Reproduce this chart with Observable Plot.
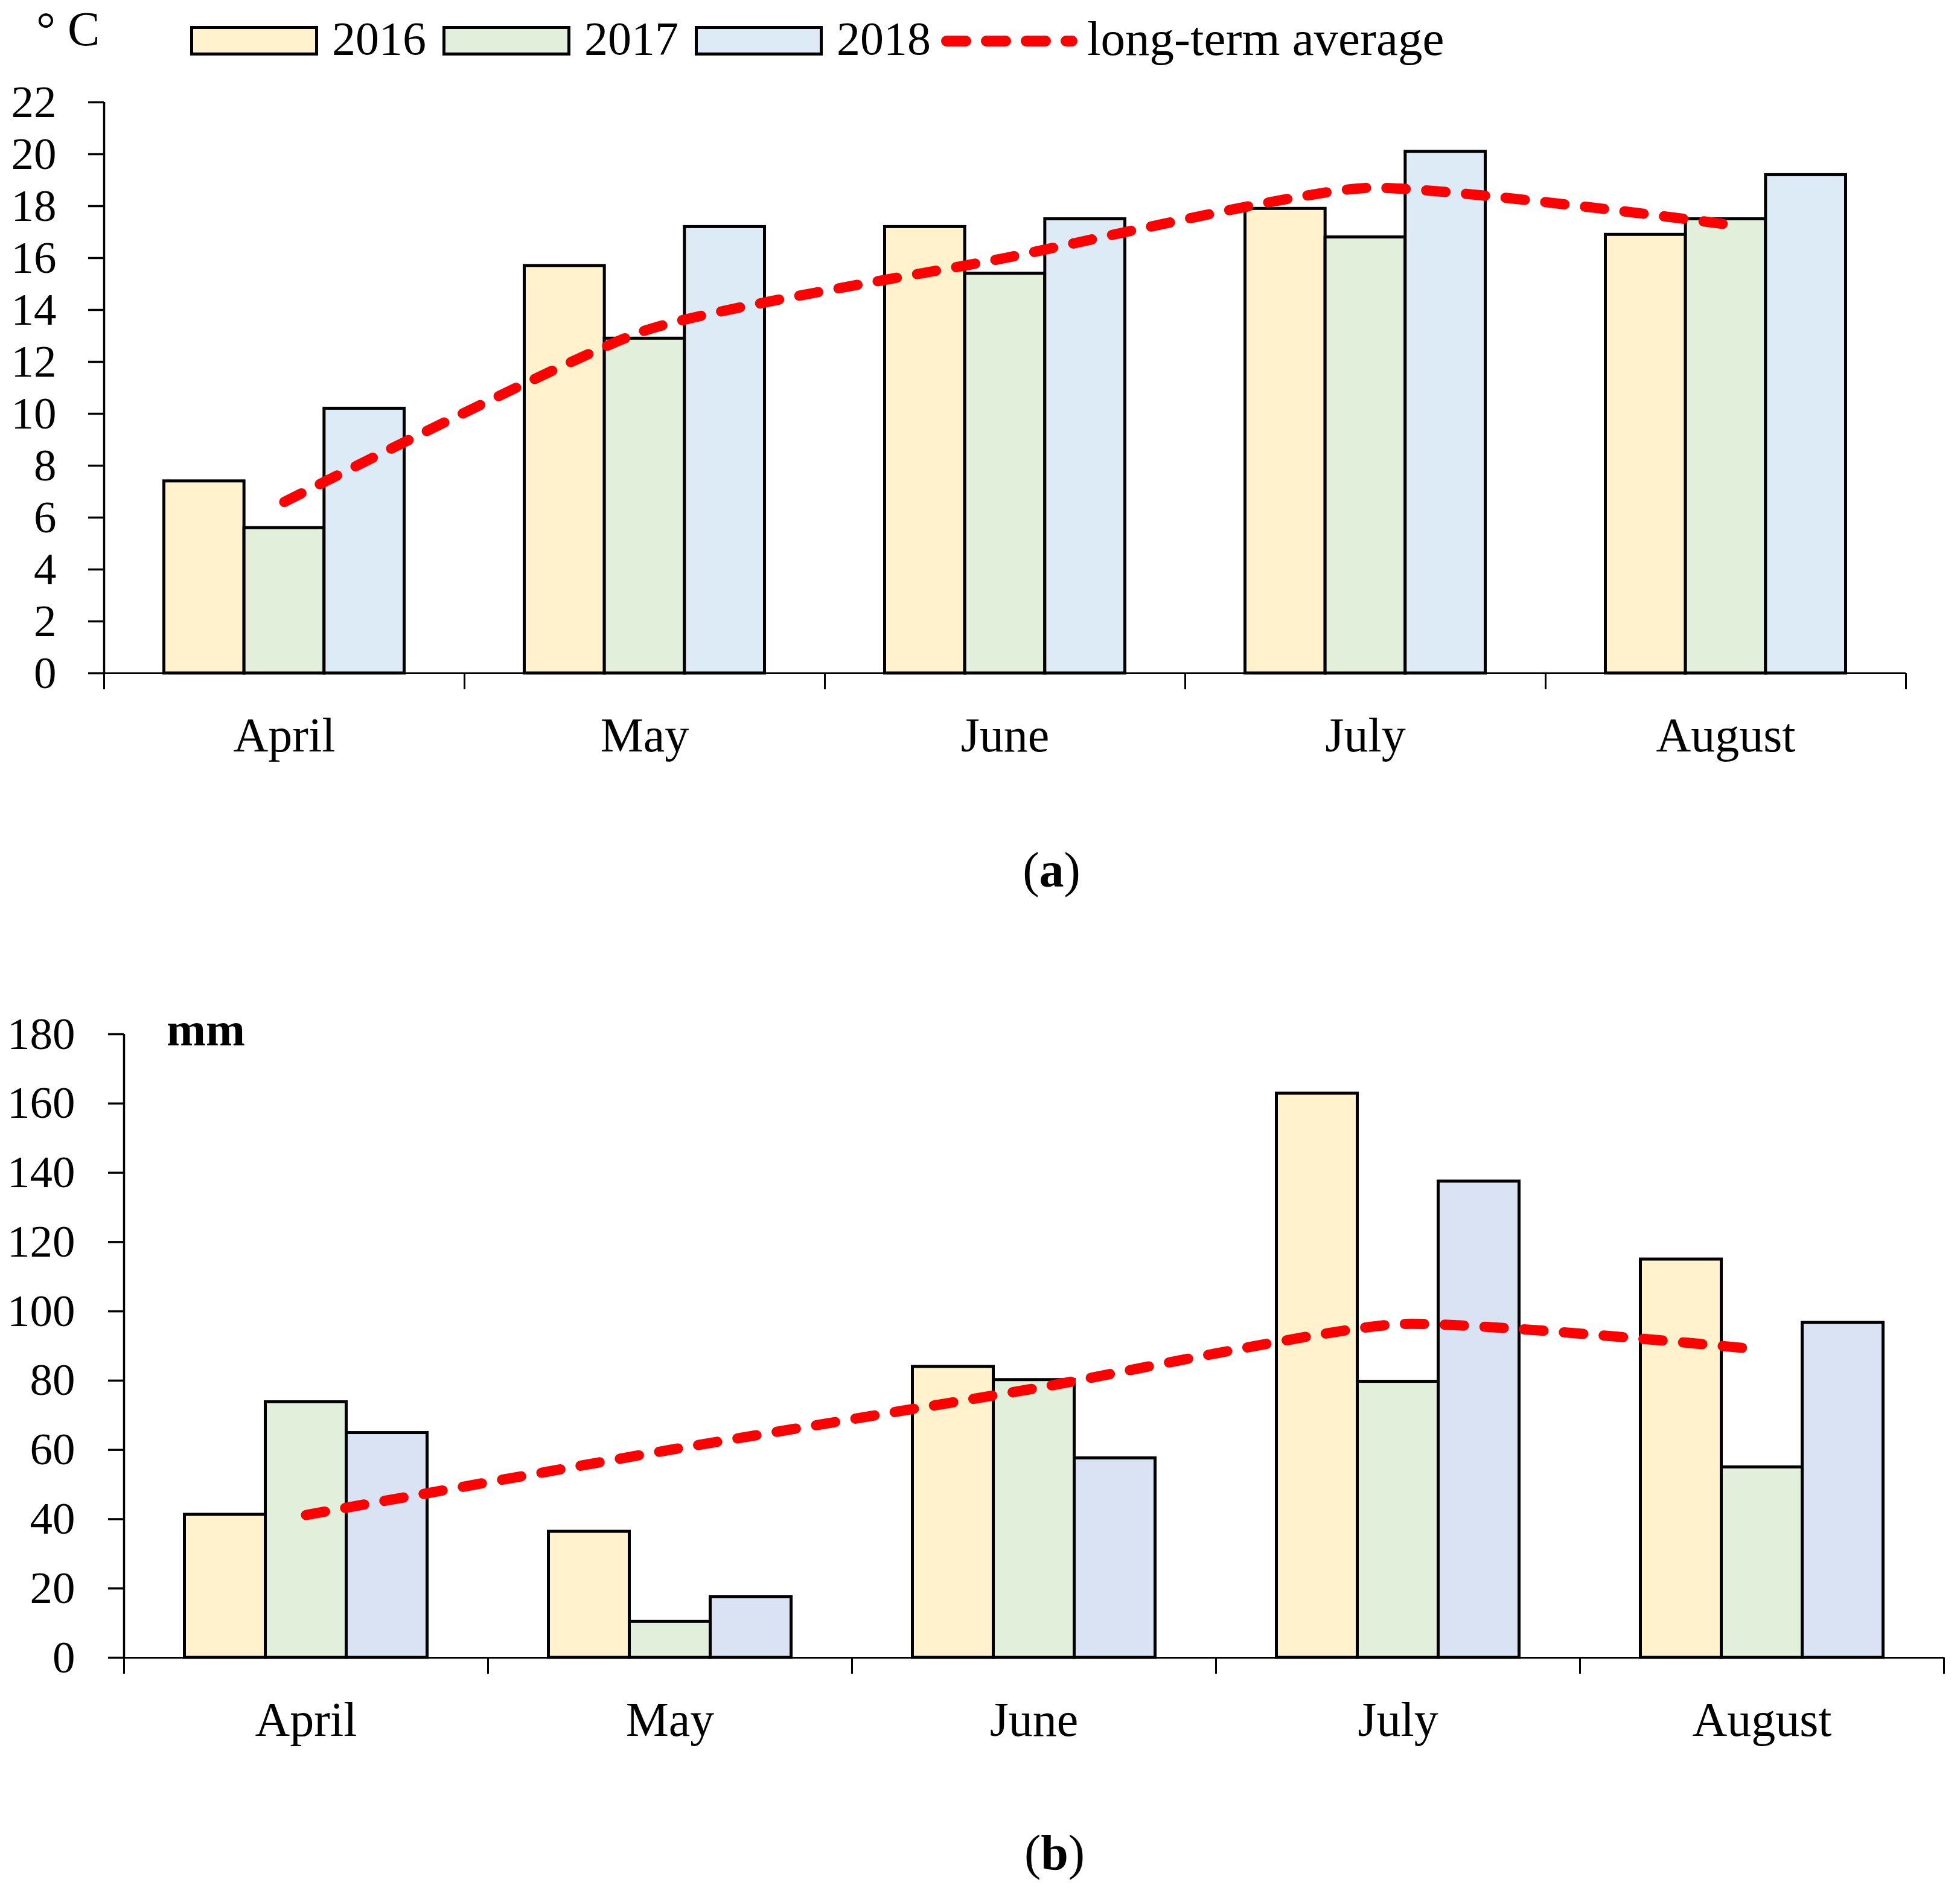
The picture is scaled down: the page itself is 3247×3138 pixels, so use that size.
<!DOCTYPE html>
<html>
<head>
<meta charset="utf-8">
<script src="https://cdn.jsdelivr.net/npm/d3@7"></script>
<script src="https://cdn.jsdelivr.net/npm/@observablehq/plot@0.6"></script>
<style>
  html, body { margin: 0; padding: 0; background: #fff; }
  #page { position: relative; width: 3247px; height: 3138px; background: #fff; font-family: "Liberation Serif", serif; color: #000; overflow: hidden; }
  .abs { position: absolute; white-space: nowrap; line-height: 1; }
  .sw { position: absolute; box-sizing: border-box; border: 5px solid #000; width: 212px; height: 49px; }
  .dash { position: absolute; height: 18px; border-radius: 9px; background: #ff0000; }
</style>
</head>
<body>
<div id="page">
  <div class="abs" style="left:60px; top:8px; font-size:80px;">° C</div>

  <div class="sw" style="left:315px; top:43px; background:#FFF2CC;"></div>
  <div class="abs" style="left:550px; top:25px; font-size:78px;">2016</div>
  <div class="sw" style="left:733px; top:43px; background:#E2EFDA;"></div>
  <div class="abs" style="left:968px; top:25px; font-size:78px;">2017</div>
  <div class="sw" style="left:1151px; top:43px; background:#DDEBF7;"></div>
  <div class="abs" style="left:1386px; top:25px; font-size:78px;">2018</div>
  <div class="dash" style="left:1559px; top:59px; width:50px;"></div>
  <div class="dash" style="left:1625px; top:59px; width:50px;"></div>
  <div class="dash" style="left:1691px; top:59px; width:50px;"></div>
  <div class="dash" style="left:1757px; top:59px; width:28px;"></div>
  <div class="abs" style="left:1801px; top:24px; font-size:81px;">long-term average</div>

  <div id="chartA" style="position:absolute; left:0; top:130px;"></div>
  <div class="abs" style="left:1542px; width:400px; text-align:center; top:1401px; font-size:82px;">(<b>a</b>)</div>

  <div id="chartB" style="position:absolute; left:0; top:1650px;"></div>
  <div class="abs" style="left:276px; top:1667px; font-size:78px; font-weight:bold;">mm</div>
  <div class="abs" style="left:1547px; width:400px; text-align:center; top:3029px; font-size:82px;">(<b>b</b>)</div>
</div>
<script>
// ---- data ----
const months = ["April", "May", "June", "July", "August"];
const years = ["2016", "2017", "2018"];

// (a) air temperature, °C
const temp2016 = [7.4, 15.7, 17.2, 17.9, 16.9];
const temp2017 = [5.6, 12.9, 15.4, 16.8, 17.5];
const temp2018 = [10.2, 17.2, 17.5, 20.1, 19.2];
const tempLongTerm = [6.6, 13.2, 16.0, 18.7, 17.3];
const tempTicks = [0, 2, 4, 6, 8, 10, 12, 14, 16, 18, 20, 22];

// (b) precipitation, mm
const prec2016 = [41.3, 36.4, 84.0, 162.9, 115.0];
const prec2017 = [73.8, 10.4, 80.2, 79.7, 55.0];
const prec2018 = [64.9, 17.5, 57.6, 137.5, 96.7];
const precLongTerm = [41.2, 60.0, 77.7, 96.3, 88.9];
const precTicks = [0, 20, 40, 60, 80, 100, 120, 140, 160, 180];

// ---- styles ----
const FONT = "Liberation Serif";
const colorsA = ["#FFF2CC", "#E2EFDA", "#DDEBF7"];
const colorsB = ["#FFF2CC", "#E2EFDA", "#DAE3F3"];

function panel({series, avg, colors, ticks, width, height, ml, mr, mt, mb, tickPadY}) {
  const bw = (width - ml - mr) / months.length;
  const groupPad = 1 / 6, barFrac = 2 / 9;
  const marks = [];
  marks.push(Plot.ruleY([0], {stroke: "black", strokeWidth: 3}));
  years.forEach((yr, k) => {
    const rows = months.map((m, i) => ({month: m, year: yr, value: series[k][i]}));
    const left = bw * (groupPad + k * barFrac);
    const right = bw - left - bw * barFrac;
    marks.push(Plot.barY(rows, {
      x: "month", y: "value", fill: colors[k], stroke: "black", strokeWidth: 5,
      insetLeft: left, insetRight: right
    }));
  });
  // y axis line
  marks.push(Plot.ruleX([months[0]], {x: d => d, y1: ticks[0], y2: ticks[ticks.length - 1], dx: -bw / 2, stroke: "black", strokeWidth: 3.5}));
  // category boundary ticks
  marks.push(Plot.ruleX(months, {x: d => d, y1: 0, y2: 0, insetBottom: -27, dx: -bw / 2, stroke: "black", strokeWidth: 3}));
  marks.push(Plot.ruleX([months[months.length - 1]], {x: d => d, y1: 0, y2: 0, insetBottom: -27, dx: bw / 2, stroke: "black", strokeWidth: 3}));
  // long-term average
  marks.push(Plot.line(months.map((m, i) => ({month: m, value: avg[i]})), {
    x: "month", y: "value", curve: "cardinal", tension: 0.45, stroke: "#FF0000", strokeWidth: 17,
    strokeDasharray: "32,34", strokeLinecap: "round", strokeLinejoin: "round"
  }));
  marks.push(Plot.axisY({ticks, tickSize: 26, tickPadding: tickPadY, fontSize: 75, strokeWidth: 3.5, tickFormat: d => String(d)}));
  marks.push(Plot.axisX({tickSize: 0, tickPadding: 73, fontSize: 80}));
  return Plot.plot({
    width, height,
    marginLeft: ml, marginRight: mr, marginTop: mt, marginBottom: mb,
    style: {fontFamily: FONT, background: "transparent", color: "black", overflow: "visible"},
    x: {type: "band", domain: months, padding: 0, label: null},
    y: {domain: [ticks[0], ticks[ticks.length - 1]], label: null},
    marks
  });
}

document.getElementById("chartA").appendChild(panel({
  series: [temp2016, temp2017, temp2018], avg: tempLongTerm, colors: colorsA, ticks: tempTicks,
  width: 3247, height: 1250, ml: 172, mr: 90, mt: 39, mb: 265, tickPadY: 53
}));
document.getElementById("chartB").appendChild(panel({
  series: [prec2016, prec2017, prec2018], avg: precLongTerm, colors: colorsB, ticks: precTicks,
  width: 3247, height: 1300, ml: 205, mr: 27, mt: 63, mb: 204, tickPadY: 55
}));
</script>
</body>
</html>
